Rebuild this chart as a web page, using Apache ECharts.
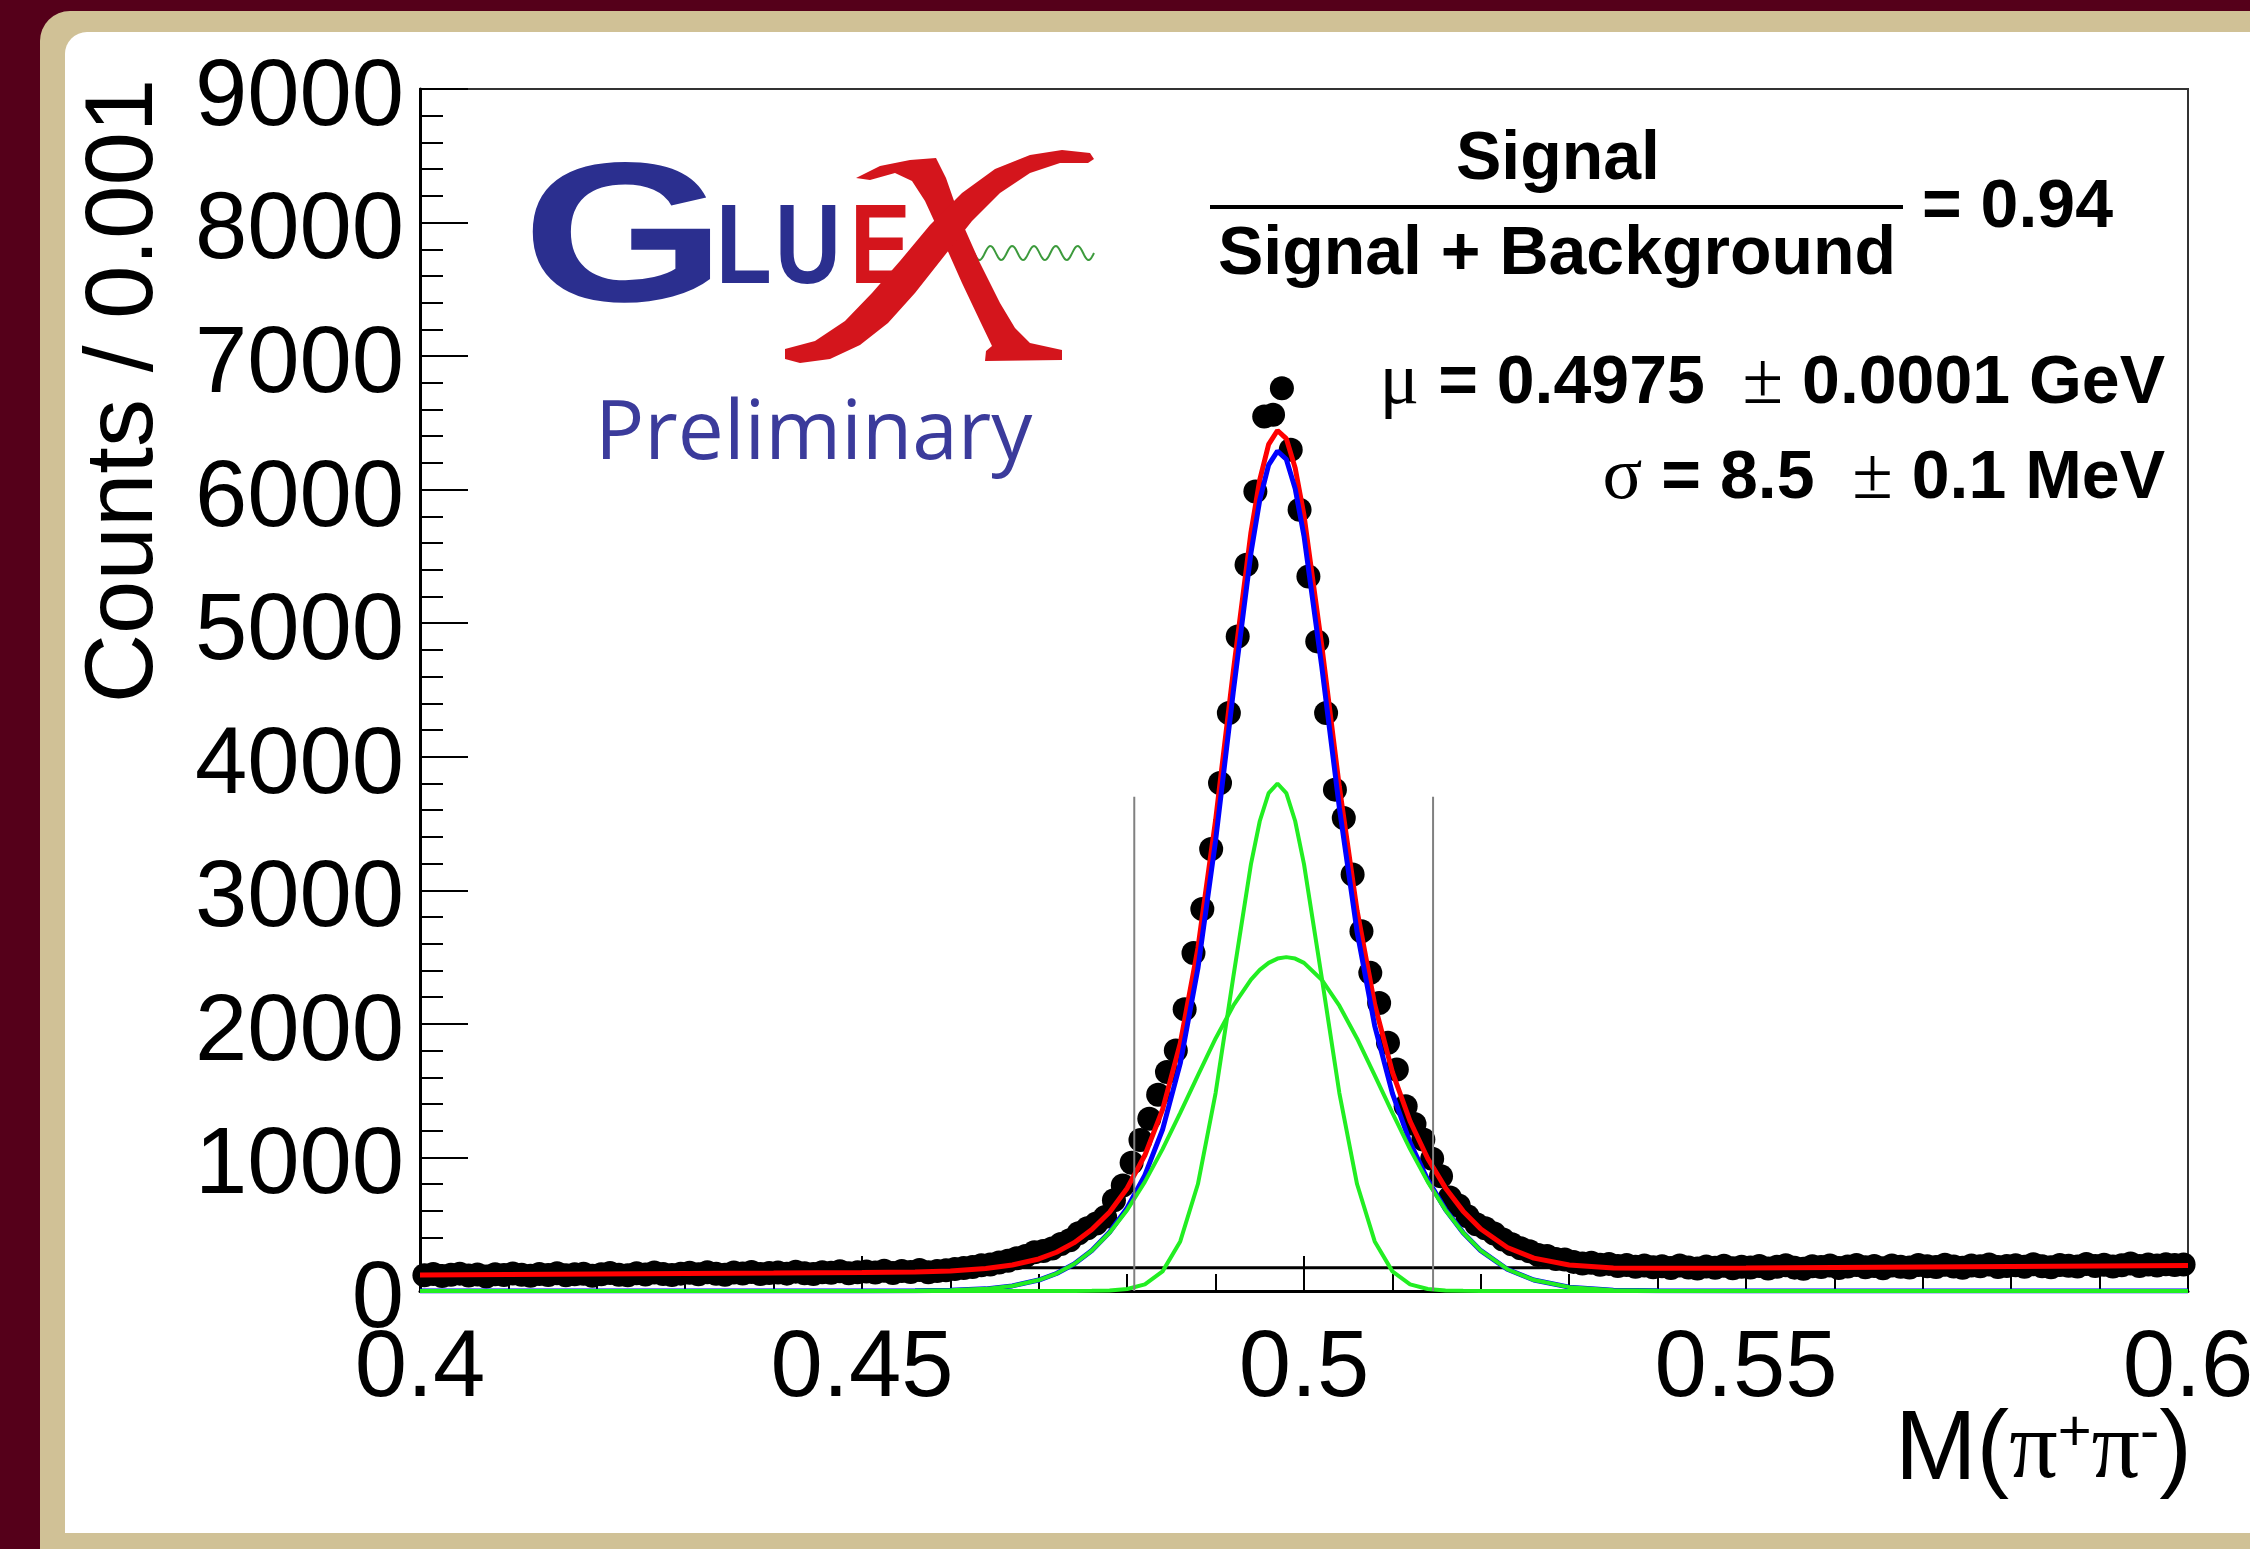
<!DOCTYPE html>
<html>
<head>
<meta charset="utf-8">
<title>GlueX preliminary - M(pi+ pi-)</title>
<script src="https://cdn.jsdelivr.net/npm/echarts@6/dist/echarts.min.js"></script>
<style>
    html, body { margin: 0; padding: 0; background: #55001a; }
    #massChart { width: 2250px; height: 1549px; }
</style>
</head>
<body>
<div id="massChart"></div>
<script>
/* histogram: 200 bins of 0.001 GeV from 0.4 */
var binLow = 0.4;
var binWidth = 0.001;
var counts = [
    118, 127, 112, 121, 130, 116, 124, 109, 126, 119,
    131, 122, 115, 128, 120, 133, 117, 125, 129, 114,
    126, 135, 121, 118, 132, 124, 138, 127, 119, 130,
    136, 125, 140, 129, 122, 138, 131, 143, 127, 134,
    139, 130, 145, 133, 128, 141, 136, 148, 132, 140,
    146, 138, 152, 135, 149, 143, 157, 141, 150, 155,
    165, 172, 180, 192, 198, 214, 226, 245, 262, 290,
    300, 318, 352, 380, 432, 470, 505, 555, 680, 790,
    960, 1130, 1290, 1470, 1640, 1800, 2110, 2530, 2860, 3310,
    3804, 4328, 4901, 5438, 5987, 6548, 6561, 6760, 6299, 5850,
    5350, 4864, 4328, 3754, 3542, 3118, 2693, 2382, 2157, 1858,
    1658, 1383, 1250, 1134, 990, 859, 700, 640, 560, 500,
    470, 430, 385, 350, 320, 298, 270, 262, 240, 236,
    218, 205, 212, 196, 203, 188, 195, 182, 190, 178,
    185, 172, 190, 176, 168, 183, 174, 189, 170, 181,
    176, 188, 169, 182, 193, 175, 167, 186, 179, 190,
    172, 184, 195, 178, 187, 170, 191, 182, 176, 194,
    186, 179, 197, 183, 174, 190, 185, 199, 180, 188,
    193, 181, 200, 186, 178, 195, 189, 184, 202, 187,
    196, 183, 192, 205, 188, 198, 190, 201, 194, 199
];

/* fit curves on a common x grid */
var curveX = [0.400, 0.420, 0.440, 0.450, 0.456, 0.460, 0.464, 0.467, 0.470, 0.472,
    0.474, 0.476, 0.478, 0.480, 0.482, 0.484, 0.486, 0.488, 0.490, 0.492,
    0.494, 0.495, 0.496, 0.497, 0.498, 0.499, 0.500, 0.502, 0.504, 0.506,
    0.508, 0.510, 0.512, 0.514, 0.516, 0.518, 0.520, 0.523, 0.526, 0.530,
    0.535, 0.540, 0.550, 0.570, 0.600];
var totalFit = [120, 127, 134, 138, 143, 150, 168, 195, 240, 290,
    362, 460, 590, 770, 1016, 1358, 1854, 2567, 3525, 4638,
    5680, 6076, 6339, 6443, 6382, 6163, 5808, 4837, 3774, 2849,
    2144, 1639, 1271, 992, 772, 598, 464, 326, 246, 195,
    173, 170, 173, 180, 190];
var signalFit = [0, 0, 0, 0, 1, 5, 16, 38, 82, 131,
    202, 303, 440, 622, 867, 1209, 1704, 2416, 3373, 4486,
    5527, 5923, 6185, 6289, 6228, 6008, 5653, 4681, 3618, 2692,
    1986, 1480, 1112, 832, 611, 437, 302, 163, 82, 29,
    6, 1, 0, 0, 0];
var narrowFit = [0, 0, 0, 0, 0, 0, 0, 0, 0, 0,
    0, 1, 4, 15, 50, 147, 371, 801, 1482, 2350,
    3196, 3519, 3728, 3800, 3728, 3519, 3196, 2350, 1482, 801,
    371, 147, 50, 15, 4, 1, 0, 0, 0, 0,
    0, 0, 0, 0, 0];
var wideFit = [0, 0, 0, 0, 1, 5, 16, 38, 82, 131,
    202, 302, 436, 607, 817, 1062, 1333, 1615, 1891, 2136,
    2331, 2404, 2457, 2489, 2500, 2489, 2457, 2331, 2136, 1891,
    1615, 1333, 1062, 817, 607, 436, 302, 163, 82, 29,
    6, 1, 0, 0, 0];

/* reference lines */
var flatLineX = [0.4, 0.6];
var flatLineY = [174, 174];
var cutX = [0.4808, 0.5146];
var cutHeight = 3700;

/* axes */
var xTickLabels = ['0.4', '0.45', '0.5', '0.55', '0.6'];
var yTickLabels = ['0', '1000', '2000', '3000', '4000', '5000', '6000', '7000', '8000', '9000'];

(function () {
    var SANS = '"Liberation Sans", Arial, Helvetica, sans-serif';
    var SERIF = '"Liberation Serif", "DejaVu Serif", serif';

    function pairs(xs, ys) {
        return xs.map(function (x, i) { return [x, ys[i]]; });
    }
    var histData = counts.map(function (c, i) {
        return [binLow + binWidth * (i + 0.5), c];
    });

    function curve(name, xs, ys, color, width) {
        return {
            name: name,
            type: 'line',
            data: pairs(xs, ys),
            showSymbol: false,
            silent: true,
            lineStyle: {color: color, width: width},
            animation: false
        };
    }

    /* text helper for the graphic layer */
    function label(x, y, text, font, fill, align, extra) {
        var el = {
            type: 'text', z: 50, x: x, y: y,
            style: {text: text, font: font, fill: fill,
                textAlign: align, textVerticalAlign: 'middle', align: align, verticalAlign: 'middle'}
        };
        for (var key in (extra || {})) { el[key] = extra[key]; }
        return el;
    }

    /* green wiggle of the logo */
    var wave = [];
    for (var k = 0; k <= 120; k++) {
        wave.push([974 + k, 253 + 7 * Math.sin(k / 120 * Math.PI * 2 * 5.5)]);
    }

    var chart = echarts.init(document.getElementById('massChart'));
    var option = {
        backgroundColor: '#55001a',
        animation: false,
        grid: {
            left: 420,
            top: 89,
            right: 62,
            bottom: 258,
            show: true,
            borderColor: '#333',
            borderWidth: 2,
            containLabel: false,
            outerBoundsMode: 'none'
        },
        xAxis: {
            type: 'value',
            min: 0.4,
            max: 0.6,
            interval: 0.05,
            splitLine: {show: false},
            axisLine: {onZero: false, lineStyle: {color: '#000', width: 3}},
            axisTick: {inside: true, length: 35, lineStyle: {color: '#000', width: 2}},
            minorTick: {show: true, splitNumber: 5, length: 17, lineStyle: {color: '#000', width: 2}},
            axisLabel: {
                margin: 32,
                color: '#000',
                fontSize: 94,
                fontFamily: SANS,
                showMinLabel: true,
                showMaxLabel: true,
                formatter: function (v) {
                    return xTickLabels[Math.round((v - 0.4) / 0.05)];
                }
            }
        },
        yAxis: {
            type: 'value',
            min: 0,
            max: 9000,
            interval: 1000,
            splitLine: {show: false},
            axisLine: {show: true, lineStyle: {color: '#000', width: 3}},
            axisTick: {show: true, inside: true, length: 48, lineStyle: {color: '#000', width: 2}},
            minorTick: {show: true, splitNumber: 5, length: 23, lineStyle: {color: '#000', width: 2}},
            axisLabel: {
                margin: 16,
                color: '#000',
                fontSize: 94,
                fontFamily: SANS,
                verticalAlign: 'top',
                lineHeight: 20,
                formatter: function (v) {
                    return yTickLabels[Math.round(v / 1000)];
                }
            }
        },
        series: [
            {
                name: 'data',
                type: 'scatter',
                data: histData,
                symbol: 'circle',
                symbolSize: 24,
                silent: true,
                itemStyle: {color: '#000', opacity: 1}
            },
            curve('flat', flatLineX, flatLineY, '#000', 3),
            curve('total', curveX, totalFit, '#ff0000', 5),
            curve('signal', curveX, signalFit, '#0000ff', 5),
            curve('narrow', curveX, narrowFit, '#22ee22', 4),
            curve('wide', curveX, wideFit, '#22ee22', 4),
            curve('cutLow', [cutX[0], cutX[0]], [0, cutHeight], '#808080', 2),
            curve('cutHigh', [cutX[1], cutX[1]], [0, cutHeight], '#808080', 2)
        ],
        graphic: [
            // frame round the pad
            {type: 'rect', z: -10, shape: {x: 40, y: 11, width: 2300, height: 1600, r: 30}, style: {fill: '#d0c196'}},
            {type: 'rect', z: -9, shape: {x: 65, y: 32, width: 2250, height: 1501, r: [22, 0, 0, 0]}, style: {fill: '#ffffff'}},
            // axis titles
            label(126, 391, 'Counts / 0.001', '96px ' + SANS, '#000', 'center', {rotation: Math.PI / 2}),
            {
                type: 'text', z: 50, x: 2192, y: 1452,
                style: {
                    text: '{m|M(}{p|π}{u|+}{p|π}{u|-}{m|)}',
                    textAlign: 'right', textVerticalAlign: 'middle', align: 'right', verticalAlign: 'middle',
                    rich: {
                        m: {font: '98px ' + SANS, fill: '#000', lineHeight: 110},
                        p: {font: '96px ' + SERIF, fill: '#000', lineHeight: 110},
                        u: {font: '58px ' + SANS, fill: '#000', lineHeight: 110, verticalAlign: 'top', padding: [8, 0, 0, 0]}
                    }
                }
            },
            // purity fraction
            label(1558, 160, 'Signal', 'bold 68px ' + SANS, '#000', 'center'),
            {type: 'line', z: 50, shape: {x1: 1210, y1: 207, x2: 1903, y2: 207}, style: {stroke: '#000', lineWidth: 4}},
            label(1557, 255, 'Signal + Background', 'bold 68px ' + SANS, '#000', 'center'),
            label(1922, 208, '= 0.94', 'bold 68px ' + SANS, '#000', 'left'),
            // fit results
            {
                type: 'text', z: 50, x: 2165, y: 384,
                style: {
                    text: '{s|μ}{b| = 0.4975  }{s|±}{b| 0.0001 GeV}',
                    textAlign: 'right', textVerticalAlign: 'middle', align: 'right', verticalAlign: 'middle',
                    rich: {
                        s: {font: '74px ' + SERIF, fill: '#000'},
                        b: {font: 'bold 68px ' + SANS, fill: '#000'}
                    }
                }
            },
            {
                type: 'text', z: 50, x: 2165, y: 479,
                style: {
                    text: '{s|σ}{b| = 8.5  }{s|±}{b| 0.1 MeV}',
                    textAlign: 'right', textVerticalAlign: 'middle', align: 'right', verticalAlign: 'middle',
                    rich: {
                        s: {font: '74px ' + SERIF, fill: '#000'},
                        b: {font: 'bold 68px ' + SANS, fill: '#000'}
                    }
                }
            },
            // GlueX logo
            label(522, 246, 'G', 'bold 199px ' + SANS, '#2b2f8f', 'left', {scaleX: 1.32}),
            label(716, 252, 'L', 'bold 114px ' + SANS, '#2b2f8f', 'left', {scaleX: 0.8}),
            label(775, 252, 'U', 'bold 114px ' + SANS, '#2b2f8f', 'left', {scaleX: 0.8}),
            label(850, 252, 'E', 'bold 114px ' + SANS, '#d4151c', 'left', {scaleX: 0.8}),
            {
                type: 'polygon', z: 51,
                shape: {points: [[856, 178], [880, 166], [910, 160], [936, 158], [946, 178], [960, 218], [980, 263],
                    [1000, 303], [1015, 328], [1030, 343], [1062, 350], [1062, 360], [985, 361], [986, 351],
                    [992, 346], [980, 321], [962, 283], [942, 238], [925, 201], [912, 181], [895, 173], [870, 180]]},
                style: {fill: '#d4151c'}
            },
            {
                type: 'polygon', z: 51,
                shape: {points: [[785, 349], [815, 341], [845, 321], [872, 293], [900, 261], [930, 225], [962, 193],
                    [995, 169], [1030, 155], [1062, 150], [1090, 153], [1094, 159], [1088, 163], [1060, 163],
                    [1030, 173], [1000, 193], [972, 221], [945, 255], [915, 293], [888, 323], [860, 345],
                    [830, 359], [800, 363], [785, 359]]},
                style: {fill: '#d4151c'}
            },
            {type: 'polyline', z: 50, shape: {points: wave}, style: {stroke: '#3c9a3c', lineWidth: 2, fill: null}},
            label(595, 436, 'Preliminary', '82px "Open Sans", sans-serif', '#3b3b9b', 'left')
        ]
    };
    chart.setOption(option);

    window.addEventListener('resize', function () {
        chart.resize();
    });
})();
</script>
</body>
</html>
